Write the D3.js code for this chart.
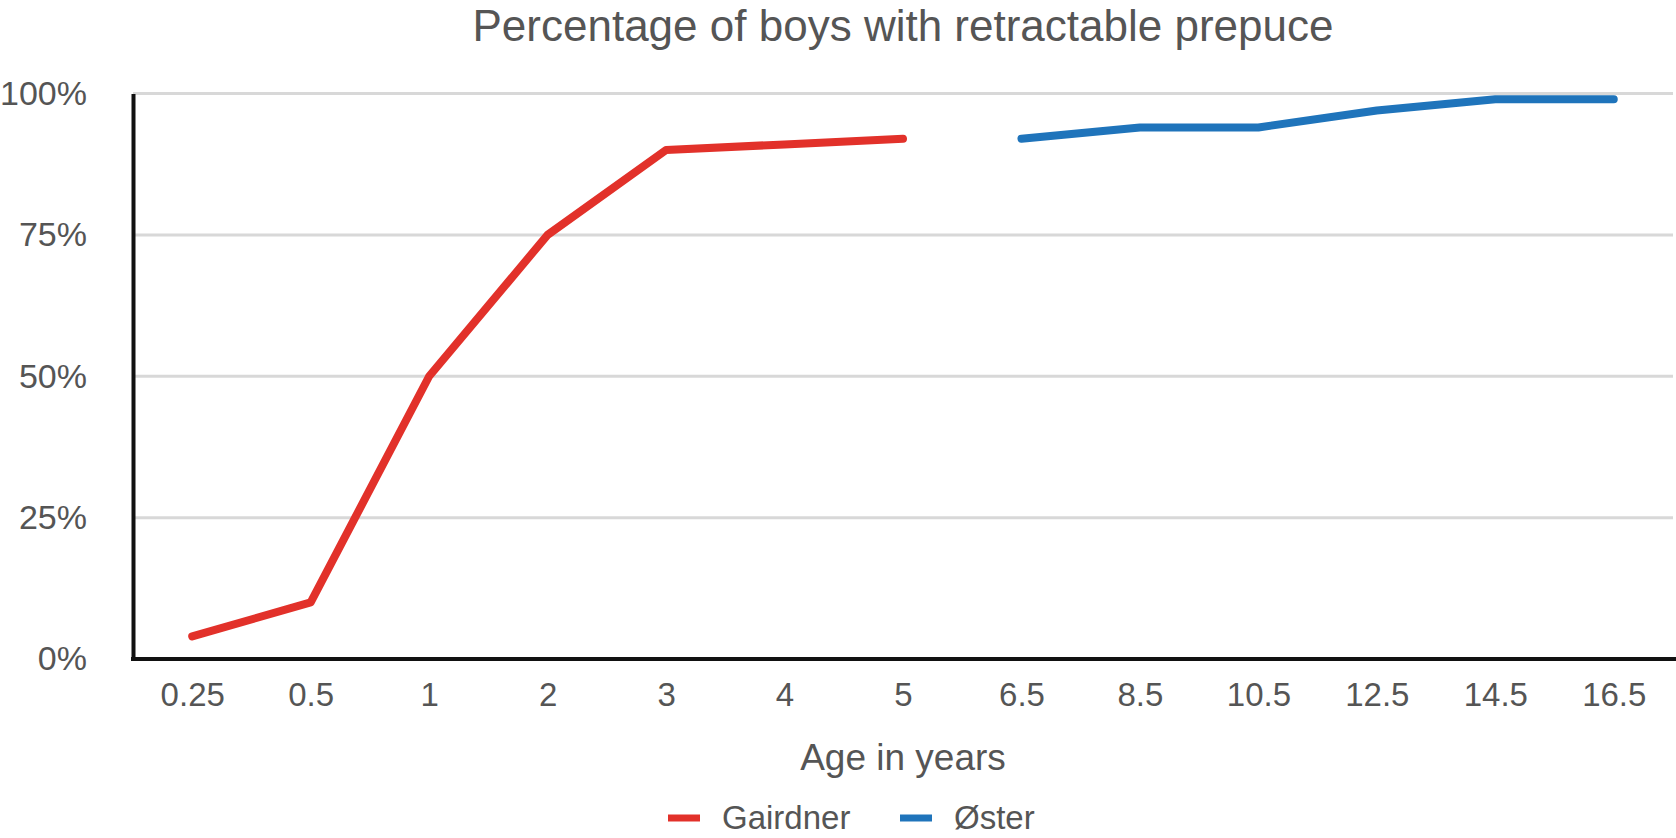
<!DOCTYPE html>
<html>
<head>
<meta charset="utf-8">
<script src="https://cdn.jsdelivr.net/npm/d3@7"></script>
<style>
  body { margin: 0; background: #fff; }
  text { font-family: "Liberation Sans", Arial, sans-serif; fill: #555; }
</style>
</head>
<body>
<svg id="chart"></svg>
<script>
let width = 1676;
let height = 838;

// Data
const ages = ["0.25", "0.5", "1", "2", "3", "4", "5", "6.5", "8.5", "10.5", "12.5", "14.5", "16.5"];
const gairdner = [4, 10, 50, 75, 90, 91, 92, null, null, null, null, null, null];
const oster = [null, null, null, null, null, null, null, 92, 94, 94, 97, 99, 99];
const yTicks = [0, 25, 50, 75, 100];
const seriesNames = ["Gairdner", "Øster"];
const seriesColors = ["#e2312a", "#1f74bb"];

const plot = { left: 133, right: 1673, top: 93.5, bottom: 659 };

const svg = d3.select("#chart")
  .attr("width", width)
  .attr("height", height);

// Scales
const x = d3.scalePoint()
  .domain(ages)
  .range([plot.left, plot.right])
  .padding(0.5);

const y = d3.scaleLinear()
  .domain([0, 100])
  .range([plot.bottom, plot.top]);

const midX = (plot.left + plot.right) / 2;

// Title
svg.append("text")
  .attr("x", midX)
  .attr("y", 41)
  .attr("text-anchor", "middle")
  .style("font-size", "44px")
  .text("Percentage of boys with retractable prepuce");

// Gridlines
svg.append("g")
  .selectAll("line")
  .data(yTicks.filter(d => d > 0))
  .enter()
  .append("line")
  .attr("x1", plot.left)
  .attr("x2", plot.right)
  .attr("y1", d => y(d))
  .attr("y2", d => y(d))
  .attr("stroke", "#d8d8d8")
  .attr("stroke-width", 3);

// Y axis
const yAxis = svg.append("g")
  .attr("transform", `translate(${plot.left},0)`)
  .call(d3.axisLeft(y).tickValues(yTicks).tickSize(0).tickPadding(46).tickFormat(d => d + "%"));
yAxis.select(".domain").attr("stroke", "#111").attr("stroke-width", 4);
yAxis.selectAll("text").style("font-size", "34px").attr("fill", "#555");

// X axis
const xAxis = svg.append("g")
  .attr("transform", `translate(0,${plot.bottom})`)
  .call(d3.axisBottom(x).tickSize(0).tickPadding(24));
xAxis.select(".domain").attr("stroke", "#111").attr("stroke-width", 4)
  .attr("d", `M${plot.left - 2},0H${width}`);
xAxis.selectAll("text").style("font-size", "33px").attr("fill", "#555");

// Axis title
svg.append("text")
  .attr("x", midX)
  .attr("y", 770)
  .attr("text-anchor", "middle")
  .style("font-size", "37px")
  .text("Age in years");

// Lines
const line = d3.line()
  .defined(d => d.v !== null)
  .x(d => x(d.age))
  .y(d => y(d.v));

[gairdner, oster].forEach((values, i) => {
  svg.append("path")
    .datum(ages.map((a, j) => ({ age: a, v: values[j] })))
    .attr("fill", "none")
    .attr("stroke", seriesColors[i])
    .attr("stroke-width", 8)
    .attr("stroke-linecap", "round")
    .attr("stroke-linejoin", "round")
    .attr("d", line);
});

// Legend (kept just inside the bottom edge)
const legendX = [668, 900];
const legend = svg.append("g");
seriesNames.forEach((name, i) => {
  legend.append("line")
    .attr("x1", legendX[i])
    .attr("x2", legendX[i] + 32)
    .attr("y1", 818)
    .attr("y2", 818)
    .attr("stroke", seriesColors[i])
    .attr("stroke-width", 7);
  legend.append("text")
    .attr("x", legendX[i] + 54)
    .attr("y", 829)
    .style("font-size", "33px")
    .text(name);
});
</script>
</body>
</html>
